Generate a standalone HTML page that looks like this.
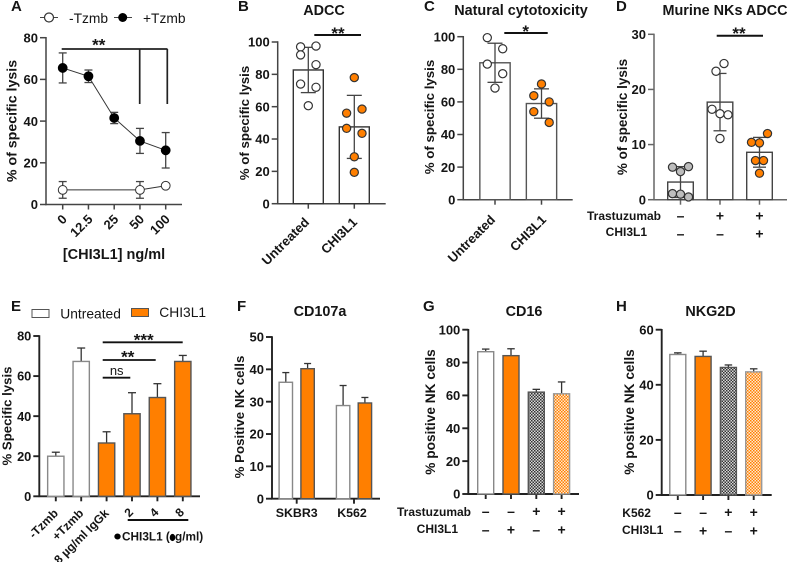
<!DOCTYPE html>
<html lang="en">
<head>
<meta charset="utf-8">
<title>NK cell lysis figure</title>
<style>
html,body{margin:0;padding:0;background:#fff;}
#figure{display:block;width:787px;height:562px;font-family:"Liberation Sans",sans-serif;fill:#151515;}
.lt{font-weight:bold;font-size:15px;}
.tt{font-weight:bold;font-size:14.4px;text-anchor:middle;}
.yt{font-weight:bold;font-size:13.6px;text-anchor:middle;}
.rl{font-weight:bold;font-size:12px;}
.st{font-weight:bold;font-size:17px;text-anchor:middle;}
.lg{font-size:13.8px;}
</style>
</head>
<body>
<svg id="figure" xmlns="http://www.w3.org/2000/svg" width="787" height="562" viewBox="0 0 787 562">
<defs>
<pattern id="hatch-dark" patternUnits="userSpaceOnUse" width="3" height="3"><rect width="3" height="3" fill="#d8d8d8"/><rect width="1.5" height="1.5" fill="#333"/><rect x="1.5" y="1.5" width="1.5" height="1.5" fill="#333"/></pattern>
<pattern id="hatch-orange" patternUnits="userSpaceOnUse" width="3" height="3"><rect width="3" height="3" fill="#ffe8cf"/><rect width="1.5" height="1.5" fill="#ff7f00"/><rect x="1.5" y="1.5" width="1.5" height="1.5" fill="#ff7f00"/></pattern>
</defs>

<text class="lt" x="11" y="11">A</text>
<text class="lt" x="238" y="11">B</text>
<text class="lt" x="424" y="11">C</text>
<text class="lt" x="616" y="11">D</text>
<text class="lt" x="11" y="311">E</text>
<text class="lt" x="237" y="311">F</text>
<text class="lt" x="423" y="311">G</text>
<text class="lt" x="616" y="311">H</text>

<text class="tt" x="324" y="15">ADCC</text>
<text class="tt" x="521" y="15">Natural cytotoxicity</text>
<text class="tt" x="725" y="15">Murine NKs ADCC</text>
<text class="tt" x="320" y="316">CD107a</text>
<text class="tt" x="524" y="316">CD16</text>
<text class="tt" x="710.5" y="316">NKG2D</text>

<text class="yt" style="font-size:14.2px" transform="translate(16.5,121) rotate(-90)">% of specific lysis</text>
<text class="yt" style="font-size:13.3px" transform="translate(249,123) rotate(-90)">% of specific lysis</text>
<text class="yt" style="font-size:13.3px" transform="translate(434,117) rotate(-90)">% of specific lysis</text>
<text class="yt" style="font-size:13.5px" transform="translate(627,117) rotate(-90)">% of specific lysis</text>
<text class="yt" style="font-size:13.2px" transform="translate(11.5,416) rotate(-90)">% Specific lysis</text>
<text class="yt" style="font-size:13.3px" transform="translate(244,417) rotate(-90)">% Positive NK cells</text>
<text class="yt" style="font-size:13.7px" transform="translate(435,412) rotate(-90)">% positive NK cells</text>
<text class="yt" style="font-size:13.7px" transform="translate(634,412) rotate(-90)">% positive NK cells</text>

<text class="yt" style="font-size:14.5px" x="114" y="259">[CHI3L1] ng/ml</text>

<g>
<line x1="40" y1="17.5" x2="58" y2="17.5" stroke="#444" stroke-width="1"/>
<circle cx="49" cy="17.5" r="4.5" fill="#fff" stroke="#333" stroke-width="1.2"/>
<text class="lg" x="69" y="23">-Tzmb</text>
<line x1="114" y1="17.5" x2="132" y2="17.5" stroke="#444" stroke-width="1"/>
<circle cx="122.7" cy="17.5" r="4.5" fill="#000"/>
<text class="lg" x="143" y="23">+Tzmb</text>
</g>
<g fill="none" stroke="#222" stroke-width="1.7">
<path d="M61.7 49H167.5M139.7 49V104M167.3 49V104"/>
</g>
<text class="st" x="98.7" y="50.4">**</text>

<line x1="314.3" y1="35" x2="361" y2="35" stroke="#111" stroke-width="2"/>
<text class="st" x="338" y="39">**</text>
<line x1="504.3" y1="33" x2="547.7" y2="33" stroke="#111" stroke-width="2"/>
<text class="st" x="525.7" y="37">*</text>
<line x1="716.7" y1="35.7" x2="763" y2="35.7" stroke="#111" stroke-width="2"/>
<text class="st" x="739" y="39">**</text>

<text class="rl" text-anchor="end" x="661" y="220">Trastuzumab</text>
<text class="rl" text-anchor="end" x="647" y="236">CHI3L1</text>

<g>
<rect x="32" y="309.5" width="17" height="8" fill="#fff" stroke="#555" stroke-width="1"/>
<text class="lg" x="60.3" y="318.5">Untreated</text>
<rect x="131.5" y="308.5" width="17" height="8" fill="#ff7f00" stroke="#555" stroke-width="1"/>
<text class="lg" x="159.3" y="317">CHI3L1</text>
</g>
<g stroke="#111" stroke-width="1.8">
<line x1="102.7" y1="342.3" x2="182.7" y2="342.3"/>
<line x1="102.7" y1="360" x2="155.7" y2="360"/>
<line x1="102.7" y1="377.7" x2="130.3" y2="377.7"/>
</g>
<text class="st" x="143.7" y="345.4">***</text>
<text class="st" x="127.7" y="362.4">**</text>
<text x="116.7" y="375" text-anchor="middle" style="font-size:13px">ns</text>
<line x1="127.7" y1="520" x2="188.3" y2="520" stroke="#111" stroke-width="2"/>
<ellipse cx="117.5" cy="536.5" rx="3.2" ry="3" fill="#000"/>
<ellipse cx="172.5" cy="537.5" rx="2.8" ry="3.6" fill="#000"/>
<text class="rl" x="122" y="540.5" style="font-size:11.8px">CHI3L1 (</text>
<text class="rl" x="175" y="540.5" style="font-size:11.8px">g/ml)</text>

<text class="rl" text-anchor="end" x="471" y="516">Trastuzumab</text>
<text class="rl" text-anchor="end" x="458" y="533">CHI3L1</text>
<text class="rl" x="622.3" y="517">K562</text>
<text class="rl" x="622" y="534">CHI3L1</text>
</svg>

<script>
// ---- Panel A data ----
const aCategories = ['0', '12.5', '25', '50', '100'];
const aYTicks = [0, 20, 40, 60, 80];
const aPlusValues = [65.5, 61.5, 41.5, 30.5, 26];
const aPlusErrors = [7.2, 3, 2.7, 6, 8.5];
const aMinusValues = [7, null, null, 7, 9];
const aMinusErrors = [4, null, null, 4, 0];

// ---- Panel B data ----
const bCategories = ['Untreated', 'CHI3L1'];
const bYTicks = [0, 20, 40, 60, 80, 100];
const bMeans = [82.7, 47.5];
const bSD = [14, 19.5];
const bPointsUntreated = [97, 97.5, 92, 86, 74, 72, 60.6];
const bSwarmUntreated = [-1, 1, -1, 1, -1, 1, 0];
const bPointsChi = [78, 58.5, 56, 46.6, 43.5, 29, 19.4];
const bSwarmChi = [0, 1, -1, -1, 1, 0, 0];

// ---- Panel C data ----
const cCategories = ['Untreated', 'CHI3L1'];
const cYTicks = [0, 20, 40, 60, 80, 100];
const cMeans = [84, 59];
const cSD = [12, 9];
const cPointsUntreated = [99.4, 92.6, 83.2, 77.3, 68.5];
const cSwarmUntreated = [-1, 1, -1, 1, 0];
const cPointsChi = [71, 63.8, 60, 54, 47.4];
const cSwarmChi = [0, -1, 1, -1, 1];

// ---- Panel D data ----
const dYTicks = [0, 10, 20, 30];
const dMeans = [3.2, 17.7, 8.6];
const dSD = [2.8, 5.2, 2.7];
const dPointsControl = [5.9, 6, 5.1, 1.1, 1, 0.5];
const dSwarmControl = [-1, 1, 0, -1, 0, 1];
const dPointsTrast = [24.7, 23.3, 16.4, 15.6, 15.4, 11.1];
const dSwarmTrast = [0.5, -0.5, -1, 0, 1, 0];
const dPointsChi = [12, 10.4, 10.3, 7.1, 7.1, 4.8];
const dSwarmChi = [1, -1, 0, -0.5, 0.5, 0];
const dRowTrastuzumab = ['–', '+', '+'];
const dRowChi = ['–', '–', '+'];

// ---- Panel E data ----
const eCategories = ['-Tzmb', '+Tzmb', '8 µg/ml IgGk', '2', '4', '8'];
const eYTicks = [0, 20, 40, 60, 80];
const eValues = [20, 67.3, 26.6, 41.2, 49.3, 67.3];
const eErrors = [2, 6.7, 5.6, 10.5, 6.9, 3];

// ---- Panel F data ----
const fCategories = ['SKBR3', 'K562'];
const fYTicks = [0, 10, 20, 30, 40, 50];
const fUntreated = [36, 28.8];
const fUntreatedErr = [3, 6.2];
const fChi = [40.2, 29.6];
const fChiErr = [1.6, 1.7];

// ---- Panel G data ----
const gYTicks = [0, 20, 40, 60, 80, 100];
const gValues = [86.6, 84.2, 62, 61];
const gErrors = [1.6, 4.2, 1.7, 7.2];
const gRowTrastuzumab = ['–', '–', '+', '+'];
const gRowChi = ['–', '+', '–', '+'];

// ---- Panel H data ----
const hYTicks = [0, 20, 40, 60];
const hValues = [51, 50.3, 46.3, 44.7];
const hErrors = [0.6, 1.9, 0.9, 1.1];
const hRowK562 = ['–', '–', '+', '+'];
const hRowChi = ['–', '+', '–', '+'];

const svg = document.getElementById('figure');
const NS = 'http://www.w3.org/2000/svg';
const ORANGE = '#ff7f00';

function mk(tag, attrs, name, parent) {
  const el = document.createElementNS(NS, tag);
  for (const k in attrs) el.setAttribute(k, attrs[k]);
  
  
  (parent || svg).appendChild(el);
  return el;
}
function linear(d0, d1, r0, r1) {
  return function (v) { return r0 + (v - d0) * (r1 - r0) / (d1 - d0); };
}
function addText(str, attrs, name, parent) {
  const t = mk('text', attrs, name, parent);
  t.textContent = str;
  return t;
}

// frame: left, right, bottom, top (pixels), yMax
function drawAxes(id, f, ticks, tickXs, color, fontSize, axisWidth) {
  const g = mk('g', {}, id + '-axes');
  const y = linear(0, f.yMax, f.bottom, f.top);
  const w = axisWidth || 1.5;
  mk('line', {x1: f.left, y1: y(f.yMax) - 0.7, x2: f.left, y2: f.bottom + 0.7, stroke: color, 'stroke-width': w}, id + '-y-axis', g);
  mk('line', {x1: f.left - 0.7, y1: f.bottom, x2: f.right, y2: f.bottom, stroke: color, 'stroke-width': w}, id + '-x-axis', g);
  ticks.forEach(function (t) {
    mk('line', {x1: f.left - 6, y1: y(t), x2: f.left, y2: y(t), stroke: color, 'stroke-width': w}, id + '-y-tick', g);
    addText(String(t), {x: f.left - 8, y: y(t) + fontSize * 0.36, 'text-anchor': 'end', 'font-weight': 'bold', 'font-size': fontSize}, id + '-y-tick-label', g);
  });
  tickXs.forEach(function (x) {
    mk('line', {x1: x, y1: f.bottom, x2: x, y2: f.bottom + 5, stroke: color, 'stroke-width': w}, id + '-x-tick', g);
  });
  return {y: y, g: g};
}
function bar(g, name, x, w, bottom, top, fill, stroke) {
  mk('rect', {x: x - w / 2, y: top, width: w, height: bottom - top, fill: fill, stroke: stroke, 'stroke-width': 1.4}, name, g);
}
function errorBar(g, name, x, yHigh, yLow, cap, color) {
  mk('line', {x1: x, y1: yHigh, x2: x, y2: yLow, stroke: color, 'stroke-width': 1.3}, name, g);
  mk('line', {x1: x - cap / 2, y1: yHigh, x2: x + cap / 2, y2: yHigh, stroke: color, 'stroke-width': 1.3}, name + '-cap', g);
}
function rotLabel(g, name, str, x, y, size) {
  addText(str, {transform: 'translate(' + x + ',' + y + ') rotate(-45)', 'text-anchor': 'end', 'font-weight': 'bold', 'font-size': size}, name, g);
}
function points(g, name, vals, swarm, cx, spread, y, fill, stroke) {
  vals.forEach(function (v, i) {
    mk('circle', {cx: cx + swarm[i] * spread, cy: y(v), r: 4.1, fill: fill, stroke: stroke, 'stroke-width': 1.2}, name, g);
  });
}
function signRow(g, name, row, xs, baseline) {
  row.forEach(function (s, i) {
    addText(s, {x: xs[i], y: baseline, 'text-anchor': 'middle', 'font-weight': 'bold', 'font-size': 14}, name, g);
  });
}
function centers(first, step, n) {
  const out = [];
  for (let i = 0; i < n; i++) out.push(first + i * step);
  return out;
}

// ---- Panel A: line chart ----
(function () {
  const f = {left: 46, right: 182, bottom: 204.5, top: 37.7, yMax: 80};
  const xs = centers(62.7, 25.75, aCategories.length);
  const ax = drawAxes('panel-a', f, aYTicks, xs, '#444', 13);
  const g = ax.g, y = ax.y;
  aCategories.forEach(function (c, i) {
    rotLabel(g, 'panel-a-x-tick-label', c, xs[i] + 5, 220, 13);
  });
  function series(vals, errs, name, fill) {
    let d = '';
    vals.forEach(function (v, i) {
      if (v === null) return;
      d += (d ? 'L' : 'M') + xs[i] + ' ' + y(v);
    });
    mk('path', {d: d, fill: 'none', stroke: '#333', 'stroke-width': 1}, name + '-line', g);
    vals.forEach(function (v, i) {
      if (v === null) return;
      if (errs[i] > 0) {
        errorBar(g, name + '-error-upper', xs[i], y(v + errs[i]), y(v), 8, '#444');
        errorBar(g, name + '-error-lower', xs[i], y(v - errs[i]), y(v), 8, '#444');
      }
    });
    vals.forEach(function (v, i) {
      if (v === null) return;
      mk('circle', {cx: xs[i], cy: y(v), r: 4.4, fill: fill, stroke: fill === '#000' ? '#000' : '#333', 'stroke-width': 1}, name + '-point', g);
    });
  }
  series(aMinusValues, aMinusErrors, 'minus-tzmb', '#fff');
  series(aPlusValues, aPlusErrors, 'plus-tzmb', '#000');
})();

// ---- Scatter-bar helper (B, C, D) ----
function scatterPanel(id, f, ticks, means, sd, groups, opts) {
  const xs = centers(opts.first, opts.step, means.length);
  const ax = drawAxes(id, f, ticks, xs, opts.color, 13);
  means.forEach(function (m, i) {
    bar(ax.g, id + '-bar', xs[i], opts.barW, f.bottom, ax.y(m), '#fff', opts.barStroke);
  });
  means.forEach(function (m, i) {
    errorBar(ax.g, id + '-error-upper', xs[i], ax.y(m + sd[i]), ax.y(m), opts.cap, '#444');
    errorBar(ax.g, id + '-error-lower', xs[i], ax.y(m - sd[i]), ax.y(m), opts.cap, '#444');
  });
  groups.forEach(function (gr, i) {
    points(ax.g, id + '-point', gr.values, gr.swarm, xs[i], opts.spread, ax.y, gr.fill, '#333');
  });
  return {xs: xs, g: ax.g};
}

const bPanel = scatterPanel('panel-b', {left: 277.7, right: 385.7, bottom: 203.7, top: 42, yMax: 100}, bYTicks, bMeans, bSD, [
  {values: bPointsUntreated, swarm: bSwarmUntreated, fill: '#fff'},
  {values: bPointsChi, swarm: bSwarmChi, fill: ORANGE}
], {first: 308.3, step: 46, barW: 30, cap: 15, spread: 7.7, color: '#444', barStroke: '#333'});
bCategories.forEach(function (c, i) {
  rotLabel(bPanel.g, 'panel-b-x-tick-label', c, bPanel.xs[i] + 1.7 + 2 * i, 223, 13);
});

const cPanel = scatterPanel('panel-c', {left: 463.3, right: 572.7, bottom: 199.7, top: 36.7, yMax: 100}, cYTicks, cMeans, cSD, [
  {values: cPointsUntreated, swarm: cSwarmUntreated, fill: '#fff'},
  {values: cPointsChi, swarm: cSwarmChi, fill: ORANGE}
], {first: 495, step: 46.5, barW: 30.3, cap: 15, spread: 7.7, color: '#444', barStroke: '#555'});
cCategories.forEach(function (c, i) {
  rotLabel(cPanel.g, 'panel-c-x-tick-label', c, cPanel.xs[i] + 1 + 4.5 * i, 220.5, 13);
});

const dPanel = scatterPanel('panel-d', {left: 654, right: 787, bottom: 199.7, top: 34.3, yMax: 30}, dYTicks, dMeans, dSD, [
  {values: dPointsControl, swarm: dSwarmControl, fill: '#bdbdbd'},
  {values: dPointsTrast, swarm: dSwarmTrast, fill: '#fff'},
  {values: dPointsChi, swarm: dSwarmChi, fill: ORANGE}
], {first: 680.5, step: 39.5, barW: 25.6, cap: 13, spread: 8, color: '#666', barStroke: '#444'});
signRow(dPanel.g, 'panel-d-trastuzumab-sign', dRowTrastuzumab, dPanel.xs, 220.5);
signRow(dPanel.g, 'panel-d-chi3l1-sign', dRowChi, dPanel.xs, 238.5);

// ---- Panel E ----
(function () {
  const f = {left: 39.3, right: 200, bottom: 496.3, top: 336, yMax: 80};
  const xs = centers(55.8, 25.4, eValues.length);
  const ax = drawAxes('panel-e', f, eYTicks, xs, '#222', 12.8, 1.9);
  eValues.forEach(function (v, i) {
    errorBar(ax.g, 'panel-e-error', xs[i], ax.y(v + eErrors[i]), ax.y(v), 8, '#333');
    bar(ax.g, 'panel-e-bar', xs[i], 16.3, f.bottom, ax.y(v), i < 2 ? '#fff' : ORANGE, i < 2 ? '#888' : '#555');
  });
  eCategories.forEach(function (c, i) {
    rotLabel(ax.g, 'panel-e-x-tick-label', c, xs[i] + (i >= 3 ? 2 : 3), i >= 3 ? 513 : 514, 12);
  });
})();

// ---- Panel F ----
(function () {
  const f = {left: 272, right: 380, bottom: 498.7, top: 337, yMax: 50};
  const xs = centers(296.7, 57.3, fCategories.length);
  const ax = drawAxes('panel-f', f, fYTicks, xs, '#222', 13, 1.9);
  const off = 10.9;
  fCategories.forEach(function (c, i) {
    errorBar(ax.g, 'panel-f-error-untreated', xs[i] - off, ax.y(fUntreated[i] + fUntreatedErr[i]), ax.y(fUntreated[i]), 7, '#333');
    bar(ax.g, 'panel-f-bar-untreated', xs[i] - off, 13.4, f.bottom, ax.y(fUntreated[i]), '#fff', '#888');
    errorBar(ax.g, 'panel-f-error-chi3l1', xs[i] + off, ax.y(fChi[i] + fChiErr[i]), ax.y(fChi[i]), 7, '#333');
    bar(ax.g, 'panel-f-bar-chi3l1', xs[i] + off, 13.4, f.bottom, ax.y(fChi[i]), ORANGE, '#555');
    addText(c, {x: xs[i] - (i ? 2 : 0), y: 517, 'text-anchor': 'middle', 'font-weight': 'bold', 'font-size': 12.4}, 'panel-f-x-tick-label', ax.g);
  });
})();

// ---- Panels G, H ----
function fourBarPanel(id, f, ticks, vals, errs, first, step) {
  const xs = centers(first, step, vals.length);
  const ax = drawAxes(id, f, ticks, xs, '#222', 13, 1.9);
  const fills = ['#fff', ORANGE, 'url(#hatch-dark)', 'url(#hatch-orange)'];
  const strokes = ['#888', '#555', '#555', '#999'];
  vals.forEach(function (v, i) {
    errorBar(ax.g, id + '-error', xs[i], ax.y(v + errs[i]), ax.y(v), 7.5, '#333');
    bar(ax.g, id + '-bar', xs[i], 16, f.bottom, ax.y(v), fills[i], strokes[i]);
  });
  return {xs: xs, g: ax.g};
}
const gPanel = fourBarPanel('panel-g', {left: 468.3, right: 579, bottom: 494, top: 329.7, yMax: 100}, gYTicks, gValues, gErrors, 485.7, 25.3);
signRow(gPanel.g, 'panel-g-trastuzumab-sign', gRowTrastuzumab, gPanel.xs, 516);
signRow(gPanel.g, 'panel-g-chi3l1-sign', gRowChi, gPanel.xs, 534.5);
const hPanel = fourBarPanel('panel-h', {left: 661.7, right: 771.7, bottom: 495, top: 329.7, yMax: 60}, hYTicks, hValues, hErrors, 677.8, 25.3);
signRow(hPanel.g, 'panel-h-k562-sign', hRowK562, hPanel.xs, 517);
signRow(hPanel.g, 'panel-h-chi3l1-sign', hRowChi, hPanel.xs, 535.5);
</script>
</body>
</html>
